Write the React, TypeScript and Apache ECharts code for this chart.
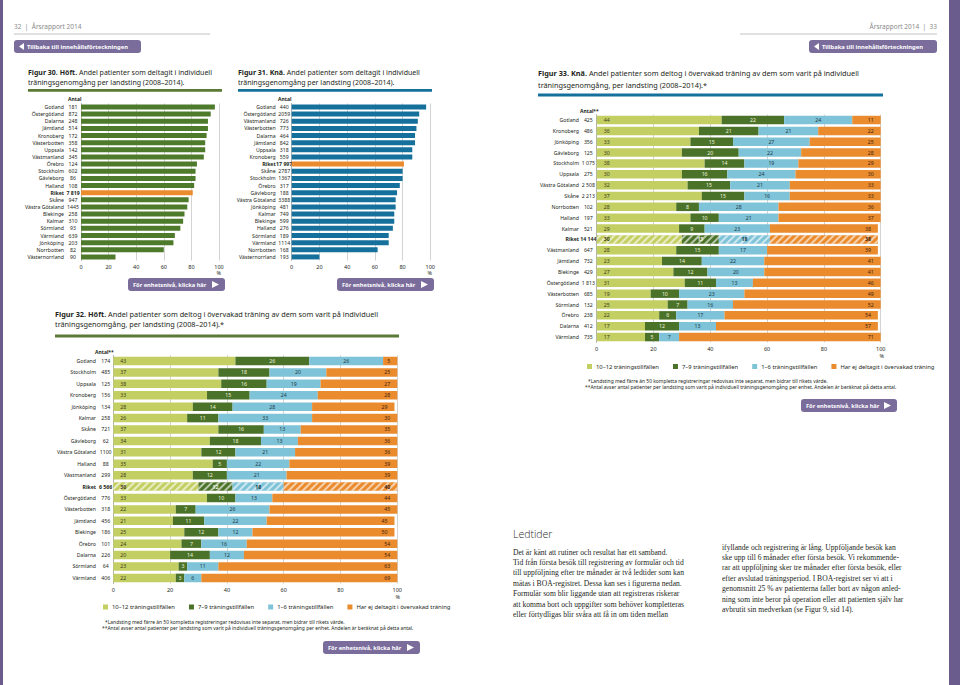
import React, { useEffect, useRef } from "react";
import * as echarts from "echarts";

const FONT = "'Noto Sans', 'Open Sans', sans-serif";
const SERIF = "'Liberation Serif', 'DejaVu Serif', serif";

// ---------- Figur 30 (Höft, individuell träningsgenomgång) ----------
const fig30Regions = ["Gotland", "Östergötland", "Dalarna", "Jämtland", "Kronoberg", "Västerbotten", "Uppsala", "Västmanland", "Örebro", "Stockholm", "Gävleborg", "Halland", "Riket", "Skåne", "Västra Götaland", "Blekinge", "Kalmar", "Sörmland", "Värmland", "Jönköping", "Norrbotten", "Västernorrland"];
const fig30Counts = ["181", "872", "248", "514", "172", "358", "142", "345", "124", "602", "86", "108", "7 819", "947", "1445", "258", "310", "93", "639", "203", "82", "90"];
const fig30Values = [97, 94, 92, 92, 91, 90, 90, 89, 84, 83, 83, 82, 81, 78, 77, 75, 74, 72, 68, 67, 60, 25];

// ---------- Figur 31 (Knä, individuell träningsgenomgång) ----------
const fig31Regions = ["Gotland", "Östergötland", "Västmanland", "Västerbotten", "Dalarna", "Jämtland", "Uppsala", "Kronoberg", "Riket", "Skåne", "Stockholm", "Örebro", "Gävleborg", "Västra Götaland", "Jönköping", "Kalmar", "Blekinge", "Halland", "Sörmland", "Värmland", "Norrbotten", "Västernorrland"];
const fig31Counts = ["440", "2059", "726", "773", "464", "842", "318", "559", "17 997", "2787", "1367", "317", "188", "3388", "481", "749", "599", "276", "189", "1114", "168", "193"];
const fig31Values = [97, 92, 91, 90, 89, 89, 87, 87, 81, 80, 80, 78, 76, 75, 75, 74, 74, 73, 70, 70, 62, 20];

// ---------- Stacked figures ----------
const segNames = ["10–12 träningstillfällen", "7–9 träningstillfällen", "1–6 träningstillfällen", "Har ej deltagit i övervakad träning"];

const fig32Regions = ["Gotland", "Stockholm", "Uppsala", "Kronoberg", "Jönköping", "Kalmar", "Skåne", "Gävleborg", "Västra Götaland", "Halland", "Västmanland", "Riket", "Östergötland", "Västerbotten", "Jämtland", "Blekinge", "Örebro", "Dalarna", "Sörmland", "Värmland"];
const fig32Counts = ["174", "485", "125", "156", "134", "258", "721", "62", "1100", "88", "299", "6 566", "776", "318", "456", "186", "101", "226", "64", "406"];
const fig32S1 = [43, 37, 38, 33, 28, 26, 37, 34, 31, 35, 28, 30, 33, 22, 21, 25, 24, 20, 23, 22];
const fig32S2 = [26, 18, 16, 15, 14, 11, 16, 18, 12, 5, 12, 12, 10, 7, 11, 12, 7, 14, 3, 3];
const fig32S3 = [26, 20, 19, 24, 28, 33, 13, 13, 21, 22, 21, 18, 13, 26, 22, 12, 16, 12, 11, 6];
const fig32S4 = [5, 25, 27, 28, 29, 30, 35, 36, 36, 39, 39, 40, 44, 45, 45, 50, 54, 54, 63, 69];

const fig33Regions = ["Gotland", "Kronoberg", "Jönköping", "Gävleborg", "Stockholm", "Uppsala", "Västra Götaland", "Skåne", "Norrbotten", "Halland", "Kalmar", "Riket", "Västmanland", "Jämtland", "Blekinge", "Östergötland", "Västerbotten", "Sörmland", "Örebro", "Dalarna", "Värmland"];
const fig33Counts = ["425", "486", "356", "125", "1 075", "275", "2 508", "2 213", "102", "197", "521", "14 144", "647", "732", "429", "1 813", "685", "132", "238", "412", "735"];
const fig33S1 = [44, 36, 33, 30, 38, 30, 32, 37, 28, 33, 29, 30, 28, 23, 27, 31, 19, 25, 22, 17, 17];
const fig33S2 = [22, 21, 15, 20, 14, 16, 15, 15, 8, 10, 9, 13, 15, 14, 12, 11, 10, 7, 6, 12, 5];
const fig33S3 = [24, 21, 27, 22, 19, 24, 21, 16, 28, 21, 23, 18, 17, 22, 20, 13, 23, 16, 17, 13, 7];
const fig33S4 = [11, 22, 25, 28, 29, 30, 33, 33, 36, 37, 38, 38, 39, 41, 41, 46, 49, 52, 54, 57, 71];

const leftText = [
  "Det är känt att rutiner och resultat har ett samband.",
  "Tid från första besök till registrering av formulär och tid",
  "till uppföljning efter tre månader är två ledtider som kan",
  "mätas i BOA-registret. Dessa kan ses i figurerna nedan.",
  "Formulär som blir liggande utan att registreras riskerar",
  "att komma bort och uppgifter som behöver kompletteras",
  "eller förtydligas blir svåra att få in om tiden mellan",
];
const rightText = [
  "ifyllande och registrering är lång. Uppföljande besök kan",
  "ske upp till 6 månader efter första besök. Vi rekommende-",
  "rar att uppföljning sker tre månader efter första besök, eller",
  "efter avslutad träningsperiod. I BOA-registret ser vi att i",
  "genomsnitt 25 % av patienterna faller bort av någon anled-",
  "ning som inte beror på operation eller att patienten själv har",
  "avbrutit sin medverkan (se Figur 9, sid 14).",
];

const GREEN = "#4d7a2b";
const BLUE = "#15709c";
const ORANGE = "#ea8c2e";
const C1 = "#c4cf63";
const C2 = "#4b7229";
const C3 = "#7fc3d8";
const C4 = "#ea8b2e";
const PURPLE = "#7a6c9b";
const TXT = "#231f20";

const DECAL = {
  symbol: "rect",
  symbolSize: 1,
  dashArrayX: [1, 0],
  dashArrayY: [1.5, 2.5],
  rotation: -Math.PI / 4,
  color: "rgba(255,255,255,0.6)",
};

function catAxis(gridIndex: number, regions: string[], counts: string[], numW: number, nameGap: number) {
  return {
    type: "category",
    gridIndex,
    data: regions,
    inverse: true,
    axisTick: { show: false },
    axisLine: { show: true, lineStyle: { color: "#9a9a9a", width: 0.6 } },
    axisLabel: {
      margin: 2,
      interval: 0,
      formatter: (v: string, i: number) =>
        v === "Riket" ? `{nb|${v}}{cb|${counts[i]}}` : `{n|${v}}{c|${counts[i]}}`,
      rich: {
        n: { fontSize: 5.2, fontFamily: FONT, color: TXT, padding: [0, nameGap, 0, 0] },
        nb: { fontSize: 5.2, fontFamily: FONT, color: TXT, fontWeight: "bold", padding: [0, nameGap, 0, 0] },
        c: { fontSize: 5.2, fontFamily: FONT, color: TXT, width: numW, align: "left" },
        cb: { fontSize: 5.2, fontFamily: FONT, color: TXT, width: numW, align: "left", fontWeight: "bold" },
      },
    },
  };
}

function valAxis(gridIndex: number) {
  return {
    type: "value",
    gridIndex,
    min: 0,
    max: 100,
    interval: 20,
    axisLine: { show: false },
    axisTick: { show: false },
    axisLabel: { fontSize: 5.5, fontFamily: FONT, color: TXT, margin: 3 },
    splitLine: { show: true, lineStyle: { color: "#b5b5b5", width: 0.6 } },
  };
}

function stackSeries(key: string, idx: number, regions: string[], arrays: number[][]) {
  const colors = [C1, C2, C3, C4];
  const labelColors = ["#3b3b1c", "#eef3dc", "#1c3a46", "#3f2410"];
  const positions = ["insideLeft", "inside", "inside", "insideRight"];
  return arrays.map((arr, k) => ({
    type: "bar",
    name: segNames[k],
    stack: key,
    xAxisIndex: idx,
    yAxisIndex: idx,
    barWidth: 8.5,
    silent: true,
    itemStyle: { color: colors[k] },
    label: {
      show: true,
      position: positions[k],
      distance: 7,
      fontSize: 5.2,
      fontFamily: FONT,
      color: labelColors[k],
    },
    data: arr.map((v, i) =>
      regions[i] === "Riket"
        ? { value: v, itemStyle: { decal: DECAL }, label: { fontWeight: "bold" } }
        : v
    ),
  }));
}

function txt(x: number, y: number, text: string, o: any = {}) {
  return {
    type: "text",
    x,
    y,
    silent: true,
    style: {
      text,
      fill: TXT,
      fontSize: 7,
      fontFamily: FONT,
      textVerticalAlign: "middle",
      ...o,
    },
  };
}

function button(x: number, y: number, w: number, h: number, label: string, arrowLeft: boolean) {
  const els: any[] = [
    { type: "rect", silent: true, shape: { x, y, width: w, height: h, r: 3 }, style: { fill: PURPLE } },
  ];
  if (arrowLeft) {
    els.push({ type: "polygon", silent: true, shape: { points: [[x + 10, y + 3], [x + 10, y + h - 3], [x + 5, y + h / 2]] }, style: { fill: "#fff" } });
    els.push(txt(x + 13, y + h / 2 + 0.5, label, { fill: "#fff", fontWeight: "bold", fontSize: 5.8 }));
  } else {
    els.push(txt(x + 5, y + h / 2 + 0.5, label, { fill: "#fff", fontWeight: "bold", fontSize: 5.7 }));
    els.push({ type: "polygon", silent: true, shape: { points: [[x + w - 13, y + 3], [x + w - 13, y + h - 3], [x + w - 6, y + h / 2]] }, style: { fill: "#fff" } });
  }
  return els;
}

export default function App() {
  const ref = useRef<HTMLDivElement>(null);
  useEffect(() => {
    if (!ref.current) return;
    const chart = echarts.init(ref.current, null, { renderer: "svg" });
    const boldRich = (s: number) => ({ b: { fontWeight: "bold", fontSize: s, fontFamily: FONT, fill: TXT } });

    const graphic: any[] = [
      { type: "rect", silent: true, shape: { x: 0, y: 0, width: 3, height: 685 }, style: { fill: "#6b5c8e" } },
      { type: "rect", silent: true, shape: { x: 949, y: 0, width: 11, height: 685 }, style: { fill: "#6b5c8e" } },
      // page header
      txt(14, 26, "32  |  Årsrapport 2014", { fontSize: 6.5, fill: "#8a8a8a" }),
      { type: "line", silent: true, shape: { x1: 14, y1: 34, x2: 210, y2: 34 }, style: { stroke: "#a9a9a9", lineWidth: 0.7 } },
      txt(937, 26, "Årsrapport 2014  |  33", { fontSize: 6.5, fill: "#8a8a8a", textAlign: "right" }),
      { type: "line", silent: true, shape: { x1: 740, y1: 34, x2: 937, y2: 34 }, style: { stroke: "#a9a9a9", lineWidth: 0.7 } },
      ...button(14, 40, 127, 13, "Tillbaka till innehållsförteckningen", true),
      ...button(809, 40, 128, 13, "Tillbaka till innehållsförteckningen", true),
      // Figure titles
      txt(28, 72, "{b|Figur 30. Höft.} Andel patienter som deltagit i individuell", { rich: boldRich(7) }),
      txt(28, 82, "träningsgenomgång per landsting (2008–2014)."),
      { type: "rect", silent: true, shape: { x: 28, y: 89, width: 194, height: 2.7 }, style: { fill: "#5b7a36" } },
      txt(238, 72, "{b|Figur 31. Knä.} Andel patienter som deltagit i individuell", { rich: boldRich(7) }),
      txt(238, 82, "träningsgenomgång per landsting (2008–2014)."),
      { type: "rect", silent: true, shape: { x: 238, y: 89, width: 194, height: 2.7 }, style: { fill: BLUE } },
      txt(538, 73, "{b|Figur 33. Knä.} Andel patienter som deltog i övervakad träning av dem som varit på individuell", { fontSize: 7.3, rich: boldRich(7.3) }),
      txt(538, 85, "träningsgenomgång, per landsting (2008–2014).*", { fontSize: 7.3 }),
      { type: "rect", silent: true, shape: { x: 538, y: 93.5, width: 345, height: 3 }, style: { fill: BLUE } },
      txt(55, 314, "{b|Figur 32. Höft.} Andel patienter som deltog i övervakad träning av dem som varit på individuell", { fontSize: 7.3, rich: boldRich(7.3) }),
      txt(55, 324, "träningsgenomgång, per landsting (2008–2014).*", { fontSize: 7.3 }),
      { type: "rect", silent: true, shape: { x: 55, y: 334.5, width: 344, height: 3 }, style: { fill: "#5b7a36" } },
      // Antal headers
      txt(68, 99, "Antal", { fontSize: 5, fontWeight: "bold" }),
      txt(278, 99, "Antal", { fontSize: 5, fontWeight: "bold" }),
      txt(95, 352, "Antal**", { fontSize: 5, fontWeight: "bold" }),
      txt(580, 111, "Antal**", { fontSize: 5, fontWeight: "bold" }),
      // % units
      txt(221, 273, "%", { fontSize: 5.5, textAlign: "right" }),
      txt(432, 273, "%", { fontSize: 5.5, textAlign: "right" }),
      txt(400, 597, "%", { fontSize: 5.5, textAlign: "right" }),
      txt(884, 356, "%", { fontSize: 5.5, textAlign: "right" }),
      // buttons under charts
      ...button(128, 278, 97, 13, "För enhetsnivå, klicka här", false),
      ...button(337, 278, 97, 13, "För enhetsnivå, klicka här", false),
      ...button(323, 641, 97, 13, "För enhetsnivå, klicka här", false),
      ...button(801, 399, 96, 13, "För enhetsnivå, klicka här", false),
      // notes
      txt(105, 622, "*Landsting med färre än 50 kompletta registreringar redovisas inte separat, men bidrar till rikets värde.", { fontSize: 4.95 }),
      txt(102, 627.5, "**Antal avser antal patienter per landsting som varit på individuell träningsgenomgång per enhet. Andelen är beräknat på detta antal.", { fontSize: 4.95 }),
      txt(588, 381, "*Landsting med färre än 50 kompletta registreringar redovisas inte separat, men bidrar till rikets värde.", { fontSize: 4.95 }),
      txt(585, 386.5, "**Antal avser antal patienter per landsting som varit på individuell träningsgenomgång per enhet. Andelen är beräknat på detta antal.", { fontSize: 4.95 }),
      // body text
      txt(513, 534, "Ledtider", { fontSize: 10.5, fontFamily: "'Open Sans', 'Noto Sans', sans-serif", fontWeight: 300, fill: "#2a2a2a" }),
      ...leftText.map((l, i) => txt(513, 552 + i * 10.4, l, { fontSize: 7.6, fontFamily: SERIF })),
      ...rightText.map((l, i) => txt(722, 547 + i * 10.4, l, { fontSize: 7.6, fontFamily: SERIF })),
    ];

    const legendCommon = {
      orient: "horizontal",
      padding: 0,
      itemWidth: 5,
      itemHeight: 5,
      itemGap: 14,
      icon: "rect",
      selectedMode: false,
      textStyle: { fontSize: 5.9, fontFamily: FONT, color: TXT, padding: [0, 0, 0, -1] },
      data: segNames,
    };

    const option: any = {
      animation: false,
      backgroundColor: "#ffffff",
      grid: [
        { left: 81, top: 103.4, width: 138, height: 157.1 },
        { left: 291.7, top: 103.4, width: 138.6, height: 157.1 },
        { left: 113.3, top: 355.3, width: 284, height: 228.3 },
        { left: 596.7, top: 114.6, width: 284, height: 227.9 },
      ],
      xAxis: [valAxis(0), valAxis(1), valAxis(2), valAxis(3)],
      yAxis: [
        catAxis(0, fig30Regions, fig30Counts, 12, 3),
        catAxis(1, fig31Regions, fig31Counts, 11, 3),
        catAxis(2, fig32Regions, fig32Counts, 11.3, 4),
        catAxis(3, fig33Regions, fig33Counts, 12.7, 3),
      ],
      legend: [
        { ...legendCommon, left: 103, top: 604 },
        { ...legendCommon, left: 587, top: 363.5 },
      ],
      series: [
        {
          type: "bar",
          xAxisIndex: 0,
          yAxisIndex: 0,
          barWidth: 5,
          silent: true,
          data: fig30Values.map((v, i) => ({ value: v, itemStyle: { color: fig30Regions[i] === "Riket" ? ORANGE : GREEN } })),
        },
        {
          type: "bar",
          xAxisIndex: 1,
          yAxisIndex: 1,
          barWidth: 5,
          silent: true,
          data: fig31Values.map((v, i) => ({ value: v, itemStyle: { color: fig31Regions[i] === "Riket" ? ORANGE : BLUE } })),
        },
        ...stackSeries("f32", 2, fig32Regions, [fig32S1, fig32S2, fig32S3, fig32S4]),
        ...stackSeries("f33", 3, fig33Regions, [fig33S1, fig33S2, fig33S3, fig33S4]),
      ],
      graphic,
    };
    chart.setOption(option);
    return () => chart.dispose();
  }, []);

  return (
    <div
      ref={ref}
      style={{ position: "absolute", left: 0, top: 0, width: 960, height: 685, background: "#fff" }}
    />
  );
}
